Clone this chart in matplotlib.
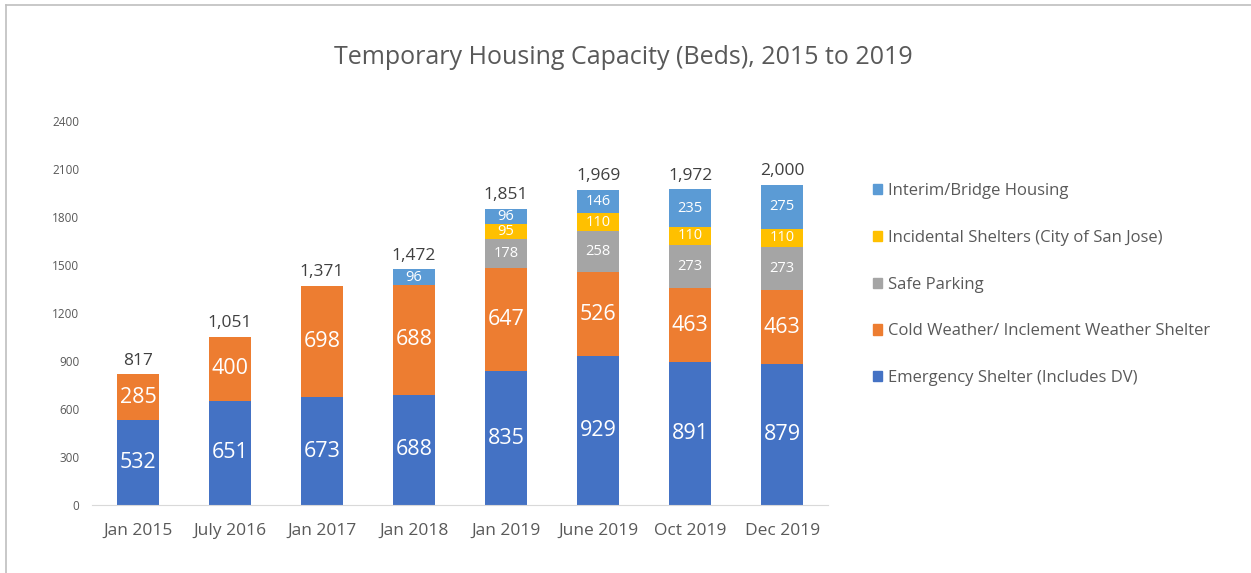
import matplotlib.pyplot as plt
import numpy as np
from matplotlib.lines import Line2D
from matplotlib.patches import Patch

plt.rcParams['font.family'] = ['Open Sans', 'DejaVu Sans']

categories = ['Jan 2015', 'July 2016', 'Jan 2017', 'Jan 2018', 'Jan 2019', 'June 2019', 'Oct 2019', 'Dec 2019']
emergency = [532, 651, 673, 688, 835, 929, 891, 879]
cold_weather = [285, 400, 698, 688, 647, 526, 463, 463]
safe_parking = [0, 0, 0, 0, 178, 258, 273, 273]
incidental = [0, 0, 0, 0, 95, 110, 110, 110]
interim = [0, 0, 0, 96, 96, 146, 235, 275]

series = [
    ('Emergency Shelter (Includes DV)', emergency, '#4472C4'),
    ('Cold Weather/ Inclement Weather Shelter', cold_weather, '#ED7D31'),
    ('Safe Parking', safe_parking, '#A5A5A5'),
    ('Incidental Shelters (City of San Jose)', incidental, '#FFC000'),
    ('Interim/Bridge Housing', interim, '#5B9BD5'),
]
# label font size per series (big numbers in the two lower segments)
label_sizes = [15.5, 15.5, 10.5, 10.5, 10.5]

fig = plt.figure(figsize=(12.51, 5.73), dpi=100)
ax = fig.add_axes([0.0735, 0.1187, 0.5885, 0.6703])

x = np.arange(len(categories))
bottom = np.zeros(len(categories))
for (name, vals, color), fs in zip(series, label_sizes):
    vals = np.array(vals)
    ax.bar(x, vals, width=0.46, bottom=bottom, color=color, label=name)
    for xi, b, v in zip(x, bottom, vals):
        if v > 0:
            ax.text(xi, b + v / 2, str(v), ha='center', va='center', color='white', fontsize=fs)
    bottom = bottom + vals

for xi, t in zip(x, bottom):
    ax.annotate(f'{int(t):,}', (xi, t), xytext=(0, 4), textcoords='offset points',
                ha='center', va='bottom', fontsize=12.5, color='#404040')

ax.set_xlim(-0.5, len(categories) - 0.5)
ax.set_ylim(0, 2400)
ax.set_yticks(np.arange(0, 2401, 300))
ax.set_xticks(x)
ax.set_xticklabels(categories, fontsize=12.5, color='#595959')
ax.tick_params(axis='y', labelsize=8.5, colors='#595959', length=0, pad=9)
ax.tick_params(axis='x', length=0, pad=13)
for s in ['top', 'right', 'left']:
    ax.spines[s].set_visible(False)
ax.spines['bottom'].set_color('#D9D9D9')

fig.text(0.498, 0.9, 'Temporary Housing Capacity (Beds), 2015 to 2019',
         ha='center', va='center', fontsize=18, color='#595959')

handles = [Patch(color=c) for _, _, c in series][::-1]
labels = [n for n, _, _ in series][::-1]
fig.legend(handles, labels, loc='upper left', bbox_to_anchor=(0.686, 0.707),
           frameon=False, fontsize=12, labelcolor='#595959',
           handlelength=0.55, handleheight=0.55, handletextpad=0.35, labelspacing=1.85)

# chart frame (top and left edges only visible)
fig.add_artist(Line2D([0.005, 1.0], [0.991, 0.991], transform=fig.transFigure, color='#BFBFBF', lw=1.2))
fig.add_artist(Line2D([0.005, 0.005], [0.0, 0.991], transform=fig.transFigure, color='#BFBFBF', lw=1.2))

fig.savefig('out.png', dpi=100)
